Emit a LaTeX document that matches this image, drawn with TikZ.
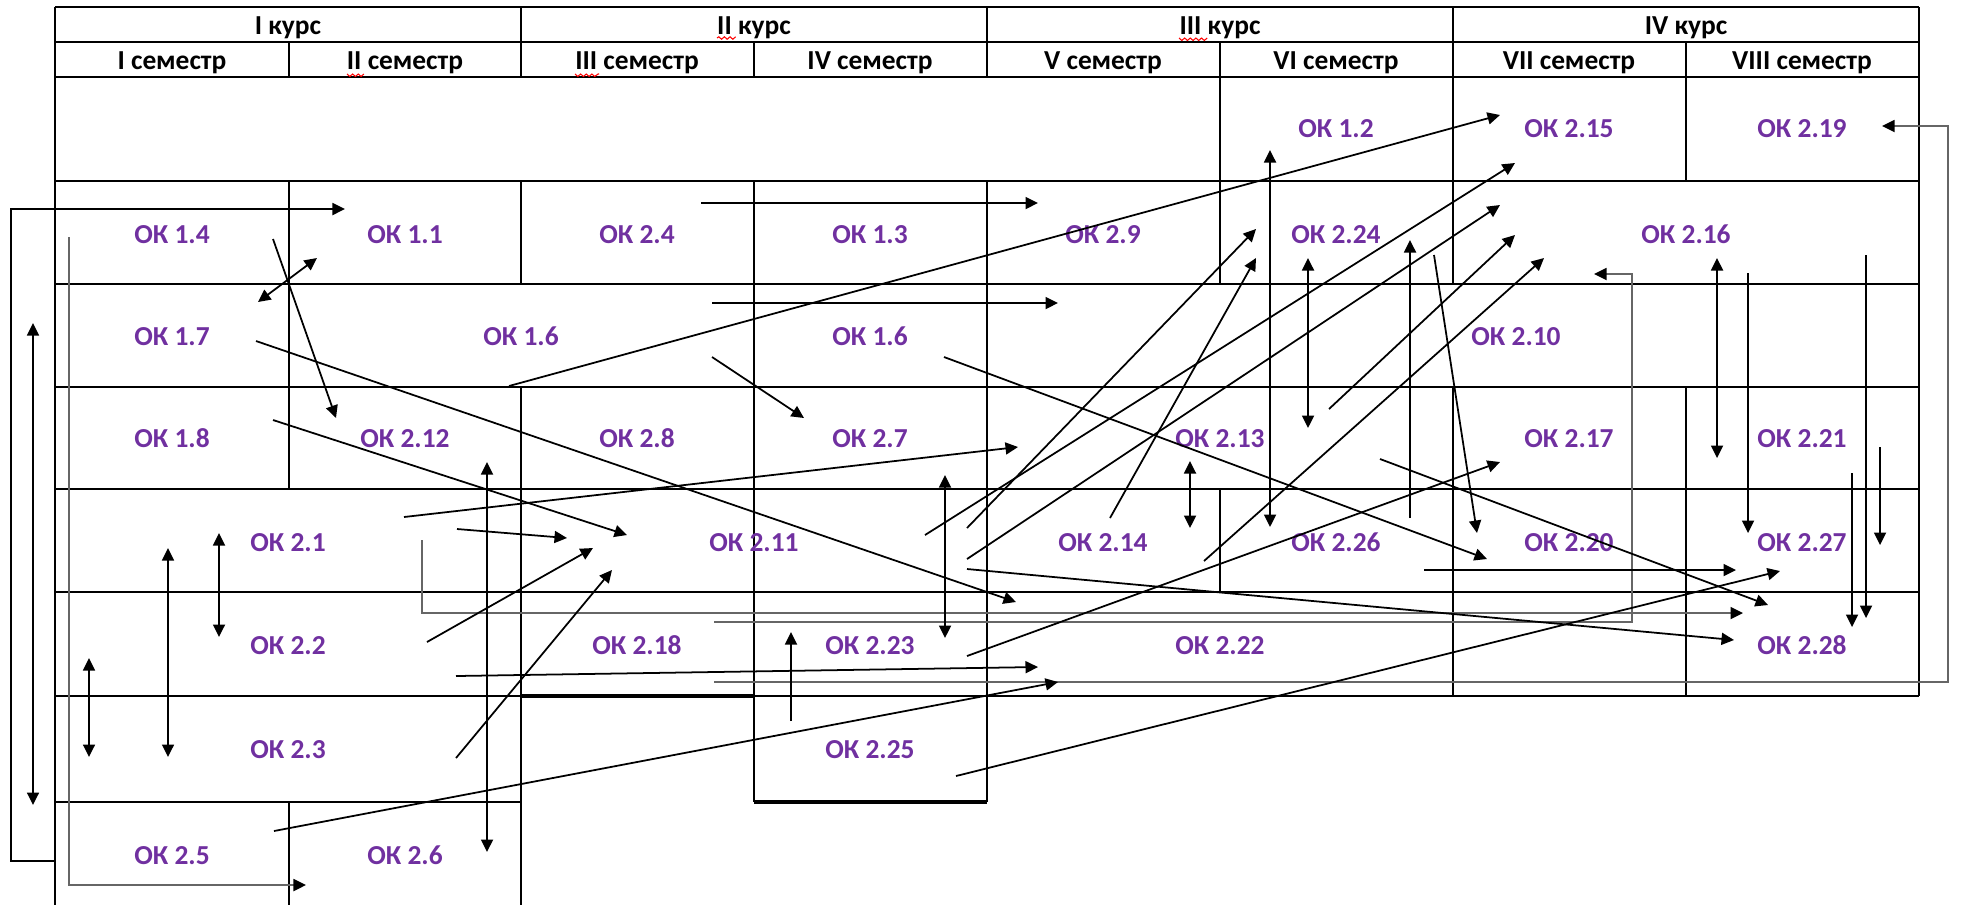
\documentclass[tikz,border=0pt]{standalone}
\usepackage{fontspec}
\setmainfont{Carlito}
\usetikzlibrary{arrows.meta,decorations.pathmorphing}
\definecolor{okviolet}{HTML}{7030A0}
\tikzset{
  ok/.style={text=okviolet,font=\fontsize{7.8}{9}\selectfont\bfseries,inner sep=0pt,anchor=base},
  head/.style={font=\fontsize{7.8}{9}\selectfont\bfseries,inner sep=0pt,anchor=base},
  grid/.style={line width=0.55pt},
  arr/.style={line width=0.5pt,-{Triangle[length=1.25mm,width=1.2mm]}},
  dbl/.style={line width=0.5pt,{Triangle[length=1.25mm,width=1.2mm]}-{Triangle[length=1.25mm,width=1.2mm]}},
  route/.style={line width=0.5pt,draw=black!60,-{Triangle[length=1.25mm,width=1.2mm,black]}},
  squiggle/.style={red,line width=0.3pt,decorate,decoration={snake,amplitude=0.35pt,segment length=1.6pt}}
}
\begin{document}
\begin{tikzpicture}[x=0.01cm,y=-0.01cm]
   \useasboundingbox (0,0) rectangle (1961,905);

   \draw[grid] (55,7) -- (1919,7) (55,42) -- (1919,42) (55,77) -- (1919,77)
   (55,181) -- (1919,181) (55,284) -- (1919,284) (55,387) -- (1919,387)
   (55,489) -- (1919,489) (55,592) -- (1919,592) (55,696) -- (1919,696)
   (55,802) -- (521,802);
   \draw[line width=1.1pt] (521,696) -- (754,696) (754,802) -- (987,802);
   \draw[grid] (55,7) -- (55,905) (289,42) -- (289,77) (289,181) -- (289,489) (289,802) -- (289,905)
   (521,7) -- (521,77) (521,181) -- (521,284) (521,387) -- (521,905)
   (754,42) -- (754,77) (754,181) -- (754,802) (987,7) -- (987,77) (987,181) -- (987,802)
   (1220,42) -- (1220,284) (1220,489) -- (1220,592) (1453,7) -- (1453,284) (1453,387) -- (1453,696)
   (1686,42) -- (1686,181) (1686,387) -- (1686,696) (1919,7) -- (1919,696);

   \node[head] (kurs1) at (288,34) {I курс};
   \node[head] (kurs2) at (754,34) {II курс};
   \node[head] (kurs3) at (1220,34) {III курс};
   \node[head] (kurs4) at (1686,34) {IV курс};
   \node[head] (sem1) at (172,69) {I семестр};
   \node[head] (sem2) at (405,69) {II семестр};
   \node[head] (sem3) at (637,69) {III семестр};
   \node[head] (sem4) at (870,69) {IV семестр};
   \node[head] (sem5) at (1103,69) {V семестр};
   \node[head] (sem6) at (1336,69) {VI семестр};
   \node[head] (sem7) at (1569,69) {VII семестр};
   \node[head] (sem8) at (1802,69) {VIII семестр};
   \draw[squiggle] (717,38) -- (735,38) (1179,38) -- (1205,38) (347,74) -- (365,74) (575,74) -- (599,74);

   \node[ok] (ok12) at (1336,137) {ОК 1.2};
   \node[ok] (ok215) at (1569,137) {ОК 2.15};
   \node[ok] (ok219) at (1802,137) {ОК 2.19};
   \node[ok] (ok14) at (172,243) {ОК 1.4};
   \node[ok] (ok11) at (405,243) {ОК 1.1};
   \node[ok] (ok24) at (637,243) {ОК 2.4};
   \node[ok] (ok13) at (870,243) {ОК 1.3};
   \node[ok] (ok29) at (1103,243) {ОК 2.9};
   \node[ok] (ok224) at (1336,243) {ОК 2.24};
   \node[ok] (ok216) at (1686,243) {ОК 2.16};
   \node[ok] (ok17) at (172,345) {ОК 1.7};
   \node[ok] (ok16a) at (521,345) {ОК 1.6};
   \node[ok] (ok16b) at (870,345) {ОК 1.6};
   \node[ok] (ok210) at (1516,345) {ОК 2.10};
   \node[ok] (ok18) at (172,447) {ОК 1.8};
   \node[ok] (ok212) at (405,447) {ОК 2.12};
   \node[ok] (ok28) at (637,447) {ОК 2.8};
   \node[ok] (ok27) at (870,447) {ОК 2.7};
   \node[ok] (ok213) at (1220,447) {ОК 2.13};
   \node[ok] (ok217) at (1569,447) {ОК 2.17};
   \node[ok] (ok221) at (1802,447) {ОК 2.21};
   \node[ok] (ok21) at (288,551) {ОК 2.1};
   \node[ok] (ok211) at (754,551) {ОК 2.11};
   \node[ok] (ok214) at (1103,551) {ОК 2.14};
   \node[ok] (ok226) at (1336,551) {ОК 2.26};
   \node[ok] (ok220) at (1569,551) {ОК 2.20};
   \node[ok] (ok227) at (1802,551) {ОК 2.27};
   \node[ok] (ok22) at (288,654) {ОК 2.2};
   \node[ok] (ok218) at (637,654) {ОК 2.18};
   \node[ok] (ok223) at (870,654) {ОК 2.23};
   \node[ok] (ok222) at (1220,654) {ОК 2.22};
   \node[ok] (ok228) at (1802,654) {ОК 2.28};
   \node[ok] (ok23) at (288,758) {ОК 2.3};
   \node[ok] (ok225) at (870,758) {ОК 2.25};
   \node[ok] (ok25) at (172,864) {ОК 2.5};
   \node[ok] (ok26) at (405,864) {ОК 2.6};

   \coordinate (s25-11) at (55,861); \coordinate (t25-11) at (345,209);
   \coordinate (s14-26) at (69,237); \coordinate (t14-26) at (306,885);
   \coordinate (s21-227) at (422,540); \coordinate (t21-227) at (1743,613);
   \coordinate (s218-216) at (714,622); \coordinate (t218-216) at (1594,274);
   \coordinate (s218-219) at (714,682); \coordinate (t218-219) at (1882,126);
   \draw[arr] (s25-11) -- ++(-44,0) |- (t25-11);
   \draw[route] (s14-26) |- (t14-26);
   \draw[route] (s21-227) |- (t21-227);
   \draw[route] (s218-216) -- ++(918,0) |- (t218-216);
   \draw[route] (s218-219) -- ++(1234,0) |- (t218-219);

   \coordinate (s17-25) at (33,323); \coordinate (t17-25) at (33,805);
   \coordinate (s14-212) at (273,239); \coordinate (t14-212) at (336,418);
   \coordinate (s17-11) at (258,302); \coordinate (t17-11) at (317,258);
   \coordinate (s17-222) at (256,341); \coordinate (t17-222) at (1016,602);
   \coordinate (s18-211) at (273,420); \coordinate (t18-211) at (627,535);
   \coordinate (s24-29) at (701,203); \coordinate (t24-29) at (1038,203);
   \coordinate (s16-213) at (712,303); \coordinate (t16-213) at (1058,303);
   \coordinate (s16-215) at (509,386); \coordinate (t16-215) at (1500,115);
   \coordinate (s16-27) at (712,357); \coordinate (t16-27) at (804,418);
   \coordinate (s16-220) at (944,357); \coordinate (t16-220) at (1487,559);
   \draw[dbl] (s17-25) -- (t17-25);
   \draw[arr] (s14-212) -- (t14-212);
   \draw[dbl] (s17-11) -- (t17-11);
   \draw[arr] (s17-222) -- (t17-222);
   \draw[arr] (s18-211) -- (t18-211);
   \draw[arr] (s24-29) -- (t24-29);
   \draw[arr] (s16-213) -- (t16-213);
   \draw[arr] (s16-215) -- (t16-215);
   \draw[arr] (s16-27) -- (t16-27);
   \draw[arr] (s16-220) -- (t16-220);

   \coordinate (s21-213) at (404,517); \coordinate (t21-213) at (1018,447);
   \coordinate (s21-211) at (457,529); \coordinate (t21-211) at (567,538);
   \coordinate (s21-22) at (219,533); \coordinate (t21-22) at (219,637);
   \coordinate (s21-23) at (168,548); \coordinate (t21-23) at (168,757);
   \coordinate (s22-23) at (89,658); \coordinate (t22-23) at (89,757);
   \coordinate (s212-26) at (487,462); \coordinate (t212-26) at (487,852);
   \coordinate (s22-211) at (427,642); \coordinate (t22-211) at (593,548);
   \coordinate (s23-211) at (456,758); \coordinate (t23-211) at (612,570);
   \coordinate (s22-222) at (456,676); \coordinate (t22-222) at (1038,667);
   \coordinate (s25-222) at (274,831); \coordinate (t25-222) at (1058,682);
   \draw[arr] (s21-213) -- (t21-213);
   \draw[arr] (s21-211) -- (t21-211);
   \draw[dbl] (s21-22) -- (t21-22);
   \draw[dbl] (s21-23) -- (t21-23);
   \draw[dbl] (s22-23) -- (t22-23);
   \draw[dbl] (s212-26) -- (t212-26);
   \draw[arr] (s22-211) -- (t22-211);
   \draw[arr] (s23-211) -- (t23-211);
   \draw[arr] (s22-222) -- (t22-222);
   \draw[arr] (s25-222) -- (t25-222);

   \coordinate (s211-223) at (945,475); \coordinate (t211-223) at (945,638);
   \coordinate (s225-223) at (791,721); \coordinate (t225-223) at (791,632);
   \coordinate (s223-217) at (967,656); \coordinate (t223-217) at (1500,462);
   \coordinate (s225-227) at (956,776); \coordinate (t225-227) at (1780,571);
   \coordinate (s211-215) at (925,535); \coordinate (t211-215) at (1515,163);
   \coordinate (s211-224) at (967,528); \coordinate (t211-224) at (1256,229);
   \coordinate (s211-216) at (967,559); \coordinate (t211-216) at (1500,205);
   \coordinate (s211-228) at (967,569); \coordinate (t211-228) at (1734,640);
   \coordinate (s214-224) at (1110,518); \coordinate (t214-224) at (1256,258);
   \coordinate (s214-216) at (1204,561); \coordinate (t214-216) at (1544,258);
   \draw[dbl] (s211-223) -- (t211-223);
   \draw[arr] (s225-223) -- (t225-223);
   \draw[arr] (s223-217) -- (t223-217);
   \draw[arr] (s225-227) -- (t225-227);
   \draw[arr] (s211-215) -- (t211-215);
   \draw[arr] (s211-224) -- (t211-224);
   \draw[arr] (s211-216) -- (t211-216);
   \draw[arr] (s211-228) -- (t211-228);
   \draw[arr] (s214-224) -- (t214-224);
   \draw[arr] (s214-216) -- (t214-216);

   \coordinate (s213-216) at (1329,409); \coordinate (t213-216) at (1515,235);
   \coordinate (s12-226) at (1270,150); \coordinate (t12-226) at (1270,527);
   \coordinate (s224-213) at (1308,258); \coordinate (t224-213) at (1308,428);
   \coordinate (s213-214) at (1190,461); \coordinate (t213-214) at (1190,528);
   \coordinate (s226-224) at (1410,518); \coordinate (t226-224) at (1410,240);
   \coordinate (s224-220) at (1434,255); \coordinate (t224-220) at (1477,533);
   \coordinate (s213-228) at (1380,459); \coordinate (t213-228) at (1768,605);
   \coordinate (s226-227) at (1424,570); \coordinate (t226-227) at (1736,570);
   \coordinate (s216-221) at (1717,258); \coordinate (t216-221) at (1717,458);
   \coordinate (s216-227) at (1748,273); \coordinate (t216-227) at (1748,533);
   \coordinate (s221-228) at (1852,473); \coordinate (t221-228) at (1852,627);
   \coordinate (s216-228) at (1866,255); \coordinate (t216-228) at (1866,618);
   \coordinate (s221-227) at (1880,447); \coordinate (t221-227) at (1880,545);
   \draw[arr] (s213-216) -- (t213-216);
   \draw[dbl] (s12-226) -- (t12-226);
   \draw[dbl] (s224-213) -- (t224-213);
   \draw[dbl] (s213-214) -- (t213-214);
   \draw[arr] (s226-224) -- (t226-224);
   \draw[arr] (s224-220) -- (t224-220);
   \draw[arr] (s213-228) -- (t213-228);
   \draw[arr] (s226-227) -- (t226-227);
   \draw[dbl] (s216-221) -- (t216-221);
   \draw[arr] (s216-227) -- (t216-227);
   \draw[arr] (s221-228) -- (t221-228);
   \draw[arr] (s216-228) -- (t216-228);
   \draw[arr] (s221-227) -- (t221-227);
    \end{tikzpicture}
\end{document}
